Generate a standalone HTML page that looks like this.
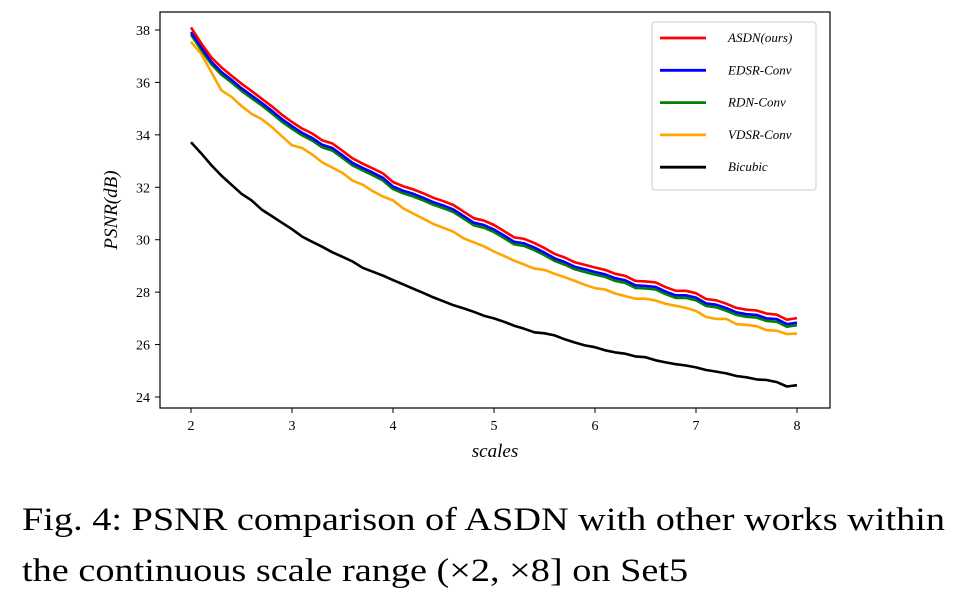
<!DOCTYPE html>
<html><head><meta charset="utf-8"><style>
body{margin:0;background:#fff;width:961px;height:596px;overflow:hidden;font-family:"Liberation Serif",serif}
.cap{position:absolute;left:22px;font-size:33px;color:#000;white-space:nowrap;transform-origin:0 0;transform:scaleX(1.16)}
</style></head><body>
<svg id="chart" width="961" height="480" style="position:absolute;left:0;top:0" font-family="Liberation Serif, serif"></svg>
<div class="cap" style="top:502px">Fig. 4: PSNR comparison of ASDN with other works within</div>
<div class="cap" style="top:553px">the continuous scale range (×2, ×8] on Set5</div>
<script>
const scales=[];for(let i=0;i<=60;i++)scales.push(+(2+i*0.1).toFixed(1));
const asdn=[38.1,37.5,36.96,36.58,36.26,35.95,35.67,35.38,35.09,34.77,34.49,34.24,34.05,33.79,33.67,33.39,33.1,32.9,32.72,32.53,32.2,32.04,31.92,31.77,31.6,31.47,31.32,31.07,30.82,30.73,30.56,30.33,30.09,30.03,29.87,29.68,29.46,29.32,29.14,29.04,28.94,28.85,28.7,28.62,28.43,28.41,28.37,28.19,28.05,28.05,27.96,27.74,27.69,27.56,27.4,27.33,27.3,27.18,27.14,26.95,27.01];
const edsr=[37.92,37.35,36.8,36.4,36.1,35.78,35.5,35.22,34.92,34.6,34.33,34.08,33.88,33.62,33.5,33.22,32.93,32.74,32.56,32.36,32.03,31.87,31.75,31.6,31.43,31.3,31.15,30.9,30.65,30.56,30.39,30.16,29.92,29.86,29.7,29.51,29.29,29.15,28.97,28.87,28.77,28.68,28.53,28.45,28.26,28.24,28.2,28.02,27.88,27.88,27.79,27.57,27.52,27.39,27.23,27.16,27.13,27.0,26.97,26.78,26.84];
const rdn=[37.82,37.25,36.7,36.3,36.0,35.68,35.4,35.12,34.82,34.5,34.23,33.98,33.78,33.52,33.4,33.12,32.83,32.64,32.46,32.26,31.93,31.77,31.65,31.5,31.33,31.2,31.05,30.8,30.55,30.46,30.29,30.06,29.82,29.76,29.6,29.41,29.19,29.05,28.87,28.77,28.67,28.58,28.43,28.35,28.16,28.14,28.1,27.92,27.78,27.78,27.69,27.47,27.42,27.29,27.13,27.06,27.03,26.9,26.87,26.68,26.74];
const vdsr=[37.55,37.1,36.4,35.7,35.45,35.1,34.8,34.6,34.3,33.95,33.6,33.5,33.25,32.95,32.75,32.55,32.25,32.1,31.85,31.65,31.5,31.2,31.0,30.8,30.6,30.45,30.3,30.05,29.9,29.75,29.55,29.38,29.2,29.05,28.9,28.85,28.7,28.57,28.43,28.28,28.15,28.1,27.95,27.85,27.75,27.75,27.68,27.55,27.48,27.4,27.28,27.05,26.98,26.98,26.78,26.75,26.7,26.55,26.53,26.4,26.42];
const bicubic=[33.72,33.3,32.85,32.45,32.1,31.75,31.5,31.15,30.9,30.65,30.4,30.12,29.92,29.73,29.52,29.35,29.17,28.93,28.78,28.63,28.46,28.3,28.13,27.97,27.8,27.65,27.5,27.38,27.25,27.1,27.0,26.87,26.72,26.6,26.47,26.43,26.35,26.2,26.08,25.97,25.9,25.78,25.7,25.65,25.55,25.52,25.4,25.32,25.25,25.2,25.13,25.03,24.97,24.9,24.8,24.75,24.67,24.65,24.57,24.4,24.45];
const xTicks=[2,3,4,5,6,7,8];
const yTicks=[24,26,28,30,32,34,36,38];
const seriesNames=["ASDN(ours)","EDSR-Conv","RDN-Conv","VDSR-Conv","Bicubic"];
const seriesColors=["#ff0000","#0000ff","#008000","#ffa500","#000000"];
const seriesData=[asdn,edsr,rdn,vdsr,bicubic];

const svg=document.getElementById('chart');const NS='http://www.w3.org/2000/svg';
const L=160,R=830,T=12,B=408;
const xs=v=>191+(v-2)*(797-191)/6;
const ys=v=>30+(38-v)*(397-30)/14;
function mk(tag,attrs,parent){const e=document.createElementNS(NS,tag);for(const k in attrs)e.setAttribute(k,attrs[k]);(parent||svg).appendChild(e);return e;}
const frame=mk('rect',{x:L,y:T,width:R-L,height:B-T,fill:'none',stroke:'#000','stroke-width':1.2});


xTicks.forEach(t=>{const x=xs(t);
 const l=mk('line',{x1:x,x2:x,y1:B,y2:B+5,stroke:'#000'});
 
 
 const tx=mk('text',{x:x,y:B+22,'font-size':14,'text-anchor':'middle'});tx.textContent=t;
 
 });
yTicks.forEach(t=>{const y=ys(t);
 const l=mk('line',{x1:L-5,x2:L,y1:y,y2:y,stroke:'#000'});
 
 
 const tx=mk('text',{x:L-10,y:y+5,'font-size':14,'text-anchor':'end'});tx.textContent=t;
 
 });
const xl=mk('text',{x:495,y:457,'font-size':19,'font-style':'italic','text-anchor':'middle'});xl.textContent='scales';


const yl=mk('text',{x:0,y:0,'font-size':19,'font-style':'italic','text-anchor':'middle',transform:'translate(117,210) rotate(-90)'});yl.textContent='PSNR(dB)';


[4,3,2,1,0].forEach(i=>{const d=seriesData[i].map((v,j)=>(j?'L':'M')+xs(scales[j]).toFixed(1)+','+ys(v).toFixed(1)).join('');
 const p=mk('path',{d:d,fill:'none',stroke:seriesColors[i],'stroke-width':2.6,'stroke-linejoin':'round'});
 
 });
const lg=mk('rect',{x:652,y:22,width:164,height:168,rx:3,fill:'#fff',stroke:'#ccc','stroke-width':1});


seriesNames.forEach((n,i)=>{const y=38+i*32.3;
 const l=mk('line',{x1:660,x2:706,y1:y,y2:y,stroke:seriesColors[i],'stroke-width':2.8});
 
 
 const t=mk('text',{x:728,y:y+4,'font-size':13,'font-style':'italic'});t.textContent=n;
 
 });
</script>
</body></html>
